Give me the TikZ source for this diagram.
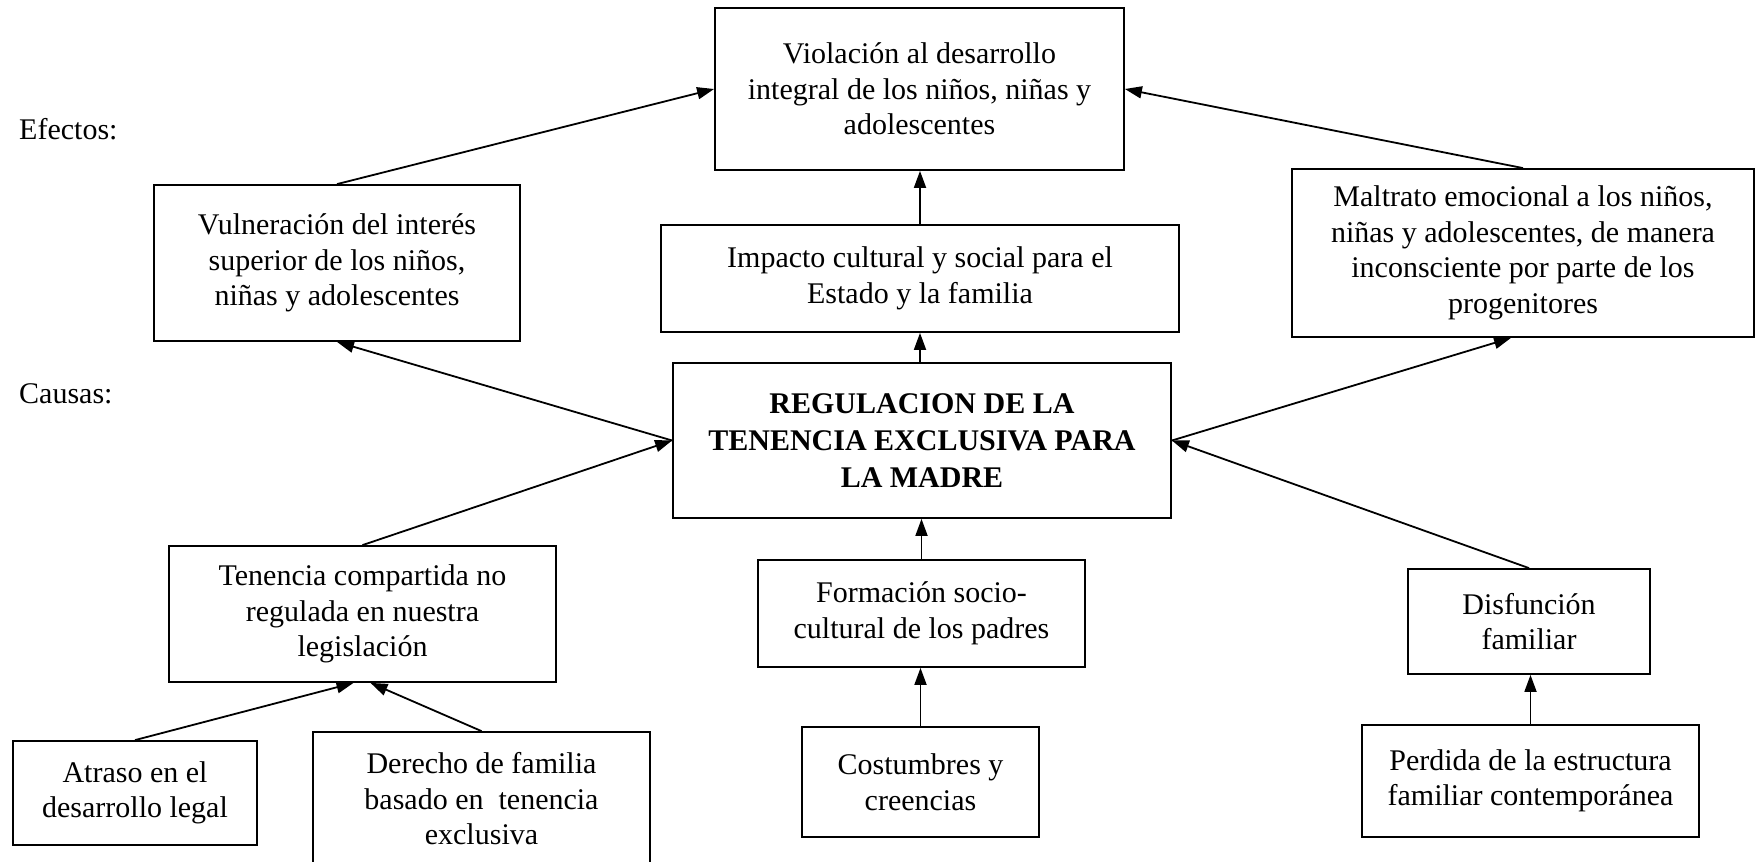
\documentclass[tikz,border=0pt]{standalone}
\usepackage{fontspec}
\setmainfont{Liberation Serif}
\usetikzlibrary{arrows.meta}
\begin{document}
\begin{tikzpicture}[x=1pt,y=-1pt,
  box/.style={draw, line width=1.8pt, inner sep=0pt, align=center,
    font=\fontsize{30}{35.5}\selectfont},
  arr/.style={line width=1.8pt, -{Triangle[length=17pt,width=12pt]}},
  lbl/.style={anchor=west, inner sep=0pt, font=\fontsize{30}{35.5}\selectfont}]
\useasboundingbox (0,0) rectangle (1757,862);
% effects
\node[box, minimum width=409pt, minimum height=162pt] (viol) at (919.5,89) {Violación al desarrollo\\integral de los niños, niñas y\\adolescentes};
\node[box, minimum width=366pt, minimum height=156pt] (vuln) at (337,263) {Vulneración del interés\\superior de los niños,\\niñas y adolescentes};
\node[box, minimum width=518pt, minimum height=107pt] (imp) at (920,278.5) {Impacto cultural y social para el\\Estado y la familia};
\node[box, minimum width=462pt, minimum height=168pt] (malt) at (1523,253) {Maltrato emocional a los niños,\\niñas y adolescentes, de manera\\inconsciente por parte de los\\progenitores};
% central
\node[box, minimum width=498pt, minimum height=155pt, font=\fontsize{30}{37}\selectfont\bfseries] (reg) at (922,440.5) {REGULACION DE LA\\TENENCIA EXCLUSIVA PARA\\LA MADRE};
% causes
\node[box, minimum width=387pt, minimum height=136pt] (ten) at (362.5,614) {Tenencia compartida no\\regulada en nuestra\\legislación};
\node[box, minimum width=327pt, minimum height=107pt] (form) at (921.5,613.5) {Formación socio-\\cultural de los padres};
\node[box, minimum width=242pt, minimum height=105pt] (disf) at (1529,621.5) {Disfunción\\familiar};
\node[box, minimum width=244pt, minimum height=104pt] (atr) at (135,793) {Atraso en el\\desarrollo legal};
\node[box, minimum width=337pt, minimum height=134pt] (der) at (481.5,799) {Derecho de familia\\basado en\ \ tenencia\\exclusiva};
\node[box, minimum width=237pt, minimum height=110pt] (cost) at (920.5,782) {Costumbres y\\creencias};
\node[box, minimum width=337pt, minimum height=112pt] (perd) at (1530.5,781) {Perdida de la estructura\\familiar contemporánea};
% labels
\node[lbl] (efe) at (19,129) {Efectos:};
\node[lbl] (cau) at (19,394) {Causas:};
% arrows
\draw[arr] (vuln.north) -- (viol.west);
\draw[arr] (malt.north) -- (viol.east);
\draw[arr] (imp.north) -- (imp.north |- viol.south);
\draw[arr] (reg.north -| imp.north) -- (imp.south);
\draw[arr] (reg.west) -- (vuln.south);
\draw[arr] (reg.east) -- ([xshift=-12pt]malt.south);
\draw[arr] (ten.north) -- (reg.west);
\draw[arr] (disf.north) -- (reg.east);
\draw[arr] (form.north) -- (form.north |- reg.south);
\draw[arr] (cost.north) -- (cost.north |- form.south);
\draw[arr] (perd.north) -- (perd.north |- disf.south);
\draw[arr] (atr.north) -- ([xshift=-9pt]ten.south);
\draw[arr] (der.north) -- ([xshift=8pt]ten.south);
\end{tikzpicture}
\end{document}
